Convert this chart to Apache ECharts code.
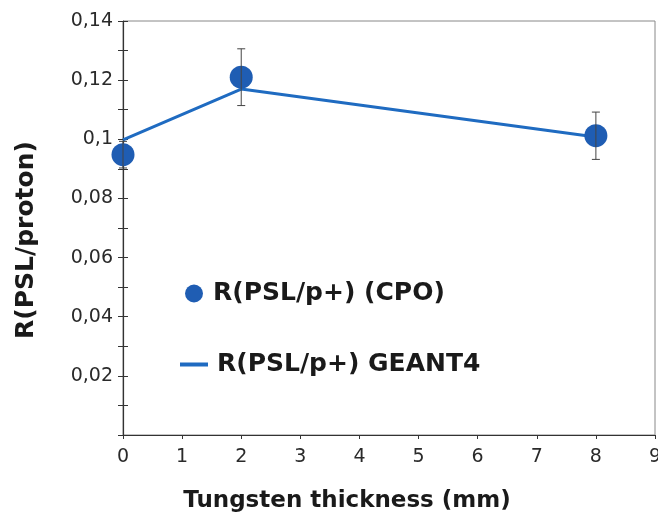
<!DOCTYPE html>
<html>
<head>
<meta charset="utf-8">
<script src="https://cdn.jsdelivr.net/npm/echarts@6/dist/echarts.min.js"></script>
<style>html,body{margin:0;padding:0;background:#fff;}#c{width:658px;height:520px;}</style>
</head>
<body>
<div id="c"></div>
<script>
// Data
const thickness = [0, 2, 8];
const cpoValues = [0.0948, 0.1210, 0.1012];
const cpoErrors = [0.0045, 0.0096, 0.0080];
const geantValues = [0.0998, 0.1170, 0.1008];
const xTickLabels = ['0','1','2','3','4','5','6','7','8','9'];
const yTickLabels = ['', '0,02', '0,04', '0,06', '0,08', '0,1', '0,12', '0,14'];
const seriesNames = ['R(PSL/p+) (CPO)', 'R(PSL/p+) GEANT4'];

const font = "'DejaVu Sans', sans-serif";
const axisColor = '#333';

const chart = echarts.init(document.getElementById('c'), null, {renderer: 'canvas'});

const errData = thickness.map((x, i) => [x, cpoValues[i] - cpoErrors[i], cpoValues[i] + cpoErrors[i]]);

const yCommon = {
  type: 'value', min: 0, max: 0.14, interval: 0.02,
  splitLine: {show: false},
  axisLine: {show: true, lineStyle: {color: axisColor, width: 1.2}}
};

chart.setOption({
  animation: false,
  backgroundColor: '#fff',
  grid: {left: 123, top: 21, right: 3, bottom: 85, show: true, borderColor: '#888', borderWidth: 1,
         backgroundColor: 'transparent', containLabel: false, outerBoundsMode: 'none'},
  xAxis: {
    type: 'value', min: 0, max: 9, interval: 1,
    splitLine: {show: false},
    axisLine: {show: true, onZero: false, lineStyle: {color: axisColor, width: 1.2}},
    axisTick: {show: true, length: 4, lineStyle: {color: axisColor}},
    axisLabel: {
      margin: 13, fontSize: 19, color: '#2a2a2a', fontFamily: font,
      formatter: v => xTickLabels[Math.round(v)]
    },
    name: 'Tungsten thickness (mm)', nameLocation: 'middle', nameGap: 55,
    nameTextStyle: {fontSize: 23, fontWeight: 'bold', color: '#1a1a1a', fontFamily: font, padding: [0, 84, 0, 0]}
  },
  yAxis: [
    Object.assign({}, yCommon, {
      axisTick: {show: true, length: 5, lineStyle: {color: axisColor}},
      minorTick: {show: true, splitNumber: 2, length: 5, lineStyle: {color: axisColor}},
      minorSplitLine: {show: false},
      axisLabel: {
        margin: 10, fontSize: 19, color: '#2a2a2a', fontFamily: font,
        formatter: v => yTickLabels[Math.round(v / 0.02)]
      },
      name: 'R(PSL/proton)', nameLocation: 'middle', nameGap: 84,
      nameTextStyle: {fontSize: 25, fontWeight: 'bold', color: '#1a1a1a', fontFamily: font, padding: [0, 24, 0, 0]}
    }),
    Object.assign({}, yCommon, {
      position: 'left', offset: -5,
      axisLine: {show: false},
      axisTick: {show: true, length: 5, lineStyle: {color: axisColor}},
      minorTick: {show: true, splitNumber: 2, length: 5, lineStyle: {color: axisColor}},
      axisLabel: {show: false}
    })
  ],
  legend: [
    {
      data: [{name: seriesNames[0], icon: 'circle'}],
      left: 180, top: 276, itemWidth: 18, itemHeight: 18,
      textStyle: {fontSize: 25, fontWeight: 'bold', color: '#1a1a1a', fontFamily: font, padding: [0,0,0,5]}
    },
    {
      data: [{name: seriesNames[1], icon: 'rect'}],
      left: 175, top: 347, itemWidth: 28, itemHeight: 4,
      textStyle: {fontSize: 25, fontWeight: 'bold', color: '#1a1a1a', fontFamily: font, padding: [0,0,0,4]}
    }
  ],
  series: [
    {
      name: seriesNames[1], type: 'line', yAxisIndex: 1, data: thickness.map((x, i) => [x, geantValues[i]]),
      showSymbol: false, symbol: 'none',
      lineStyle: {color: '#1f6bc1', width: 3}, itemStyle: {color: '#1f6bc1'}, z: 2
    },
    {
      name: seriesNames[0], type: 'scatter', data: thickness.map((x, i) => [x, cpoValues[i]]),
      symbol: 'circle', symbolSize: 23,
      itemStyle: {color: '#1f5db3', opacity: 1}, z: 3
    },
    {
      name: 'err', type: 'custom', data: errData, z: 4,
      renderItem: function (params, api) {
        const x = api.value(0);
        const lo = api.coord([x, api.value(1)]);
        const hi = api.coord([x, api.value(2)]);
        const w = 4;
        const style = {stroke: '#444', lineWidth: 1};
        return {
          type: 'group',
          children: [
            {type: 'line', shape: {x1: lo[0], y1: lo[1], x2: hi[0], y2: hi[1]}, style: style},
            {type: 'line', shape: {x1: lo[0]-w, y1: lo[1], x2: lo[0]+w, y2: lo[1]}, style: style},
            {type: 'line', shape: {x1: hi[0]-w, y1: hi[1], x2: hi[0]+w, y2: hi[1]}, style: style}
          ]
        };
      }
    }
  ]
});
</script>
</body>
</html>
